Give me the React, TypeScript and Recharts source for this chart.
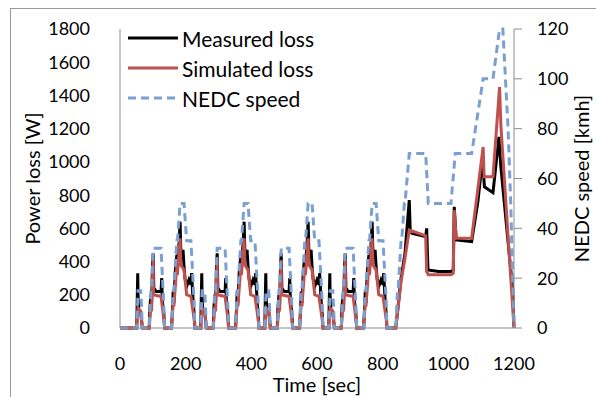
import { LineChart, Line, XAxis, YAxis, Legend, Label } from "recharts";

// ECE-15 urban cycles start times [sec] and EUDC start
const eceStarts = [40, 235, 430, 625];
const eudcStart = 820;

// NEDC speed [km/h], times relative to each cycle start
const eceSpeedT = [0, 11, 15, 23, 25, 28, 49, 54, 56, 61, 85, 93, 96, 117, 122, 124, 133, 135, 143, 155, 163, 176, 186, 188, 195];
const eceSpeed = [0, 0, 15, 15, 10, 0, 0, 15, 15, 32, 32, 10, 0, 0, 15, 15, 35, 35, 50, 50, 35, 35, 10, 0, 0];
const eudcSpeedT = [0, 20, 25, 27, 36, 38, 46, 48, 61, 111, 119, 188, 201, 251, 286, 316, 336, 346, 362, 370, 380];
const eudcSpeed = [0, 0, 15, 15, 35, 35, 50, 50, 70, 70, 50, 50, 70, 70, 100, 100, 120, 120, 80, 50, 0];

// Measured loss [W]
const eceMeasT = [0, 11, 12, 14, 15, 17, 23, 25, 28, 49, 51, 54, 56, 59, 61, 63, 70, 85, 87, 89, 93, 96, 117, 120, 122, 124, 128, 133, 135, 140, 143, 145, 148, 152, 155, 158, 163, 170, 176, 178, 183, 186, 188, 195];
const eceMeas = [0, 0, 120, 330, 200, 110, 100, 60, 0, 0, 120, 200, 140, 380, 450, 240, 220, 220, 300, 160, 100, 0, 0, 120, 220, 150, 330, 440, 380, 520, 640, 480, 440, 470, 370, 300, 250, 290, 260, 330, 150, 80, 0, 0];
const eudcMeasT = [0, 20, 36, 48, 61, 64, 70, 111, 114, 118, 150, 188, 195, 198, 204, 251, 270, 284, 290, 316, 334, 340, 376, 380];
const eudcMeas = [0, 0, 300, 450, 770, 580, 570, 550, 600, 350, 340, 340, 350, 730, 530, 520, 760, 1015, 850, 815, 1150, 970, 230, 0];

// Simulated loss [W]
const eceSimT = [0, 11, 15, 23, 25, 28, 49, 54, 56, 61, 62, 85, 93, 96, 117, 122, 124, 133, 135, 143, 145, 155, 163, 176, 186, 188, 195];
const eceSim = [0, 0, 120, 100, 60, 0, 0, 130, 100, 410, 200, 190, 60, 0, 0, 150, 130, 370, 320, 540, 380, 350, 200, 190, 50, 0, 0];
const eudcSimT = [0, 20, 36, 48, 61, 111, 114, 119, 188, 195, 198, 204, 251, 286, 289, 316, 336, 340, 380];
const eudcSim = [0, 0, 280, 420, 590, 555, 340, 320, 320, 330, 710, 540, 540, 1090, 910, 910, 1450, 1220, 0];

const xTicks = [0, 200, 400, 600, 800, 1000, 1200];
const lossTicks = [0, 200, 400, 600, 800, 1000, 1200, 1400, 1600, 1800];
const speedTicks = [0, 20, 40, 60, 80, 100, 120];

function build(cT: number[], cV: number[], eT: number[], eV: number[]) {
  const pts: { t: number; v: number }[] = [{ t: 0, v: 0 }];
  eceStarts.forEach((s) => cT.forEach((t, i) => pts.push({ t: s + t, v: cV[i] })));
  eT.forEach((t, i) => pts.push({ t: eudcStart + t, v: eV[i] }));
  return pts;
}

const measured = build(eceMeasT, eceMeas, eudcMeasT, eudcMeas);
const simulated = build(eceSimT, eceSim, eudcSimT, eudcSim);
const speed = build(eceSpeedT, eceSpeed, eudcSpeedT, eudcSpeed);

const font = "Lato, 'Open Sans', sans-serif";
const axisGray = "#8c8c8c";

const legendItems = [
  { name: "Measured loss", color: "#000000", dash: undefined },
  { name: "Simulated loss", color: "#c0504d", dash: undefined },
  { name: "NEDC speed", color: "#7b9fd0", dash: "8 5" },
];

function LegendBox() {
  return (
    <div style={{ fontFamily: font, fontSize: 21, color: "#000", width: 200 }}>
      {legendItems.map((it) => (
        <div key={it.name} style={{ display: "flex", alignItems: "center", height: 30 }}>
          <svg width={52} height={10}>
            <line x1={0} y1={5} x2={50} y2={5} stroke={it.color} strokeWidth={3} strokeDasharray={it.dash} />
          </svg>
          <span style={{ marginLeft: 2 }}>{it.name}</span>
        </div>
      ))}
    </div>
  );
}

export default function App() {
  return (
    <div style={{ position: "absolute", left: 0, top: 0, width: 596, height: 397, background: "#fff" }}>
      <div
        style={{
          position: "absolute",
          left: 10,
          top: 8,
          width: 586,
          height: 389,
          borderLeft: "1px solid #9a9a9a",
          borderTop: "1px solid #9a9a9a",
        }}
      />
      <LineChart width={596} height={397} margin={{ top: 29, right: 0, bottom: 19, left: 0 }}>
        <XAxis
          dataKey="t"
          type="number"
          domain={[0, 1200]}
          ticks={xTicks}
          allowDuplicatedCategory={false}
          height={50}
          stroke={axisGray}
          tickLine={false}
          tickSize={0}
          tickMargin={29}
          tick={{ fill: "#000", fontSize: 18, fontFamily: font }}
        >
          <Label value="Time [sec]" position="bottom" offset={0} style={{ fill: "#000", fontSize: 20, fontFamily: font }} />
        </XAxis>
        <YAxis
          yAxisId="left"
          domain={[0, 1800]}
          ticks={lossTicks}
          width={120}
          stroke={axisGray}
          tickLine={false}
          tickSize={0}
          tickMargin={30}
          tick={{ fill: "#000", fontSize: 18, fontFamily: font }}
        >
          <Label
            value="Power loss [W]"
            angle={-90}
            position="insideLeft"
            offset={33}
            style={{ fill: "#000", fontSize: 20, fontFamily: font, textAnchor: "middle" }}
          />
        </YAxis>
        <YAxis
          yAxisId="right"
          orientation="right"
          domain={[0, 120]}
          ticks={speedTicks}
          width={82}
          stroke={axisGray}
          tickSize={8}
          tickMargin={15}
          tick={{ fill: "#000", fontSize: 18, fontFamily: font, textAnchor: "start" }}
        >
          <Label
            value="NEDC speed [kmh]"
            angle={-90}
            position="insideRight"
            offset={14}
            style={{ fill: "#000", fontSize: 20, fontFamily: font, textAnchor: "middle" }}
          />
        </YAxis>
        <Legend
          content={() => <LegendBox />}
          layout="horizontal"
          verticalAlign="middle"
          align="center"
          wrapperStyle={{ position: "absolute", top: 23, left: 128, width: 200, height: 90 }}
        />
        <Line
          yAxisId="left"
          data={measured}
          dataKey="v"
          name="Measured loss"
          stroke="#000000"
          strokeWidth={3}
          dot={false}
          type="linear"
          isAnimationActive={false}
        />
        <Line
          yAxisId="left"
          data={simulated}
          dataKey="v"
          name="Simulated loss"
          stroke="#c0504d"
          strokeWidth={3}
          dot={false}
          type="linear"
          isAnimationActive={false}
        />
        <Line
          yAxisId="right"
          data={speed}
          dataKey="v"
          name="NEDC speed"
          stroke="#7b9fd0"
          strokeWidth={3}
          strokeDasharray="8 5"
          dot={false}
          type="linear"
          isAnimationActive={false}
        />
      </LineChart>
    </div>
  );
}
